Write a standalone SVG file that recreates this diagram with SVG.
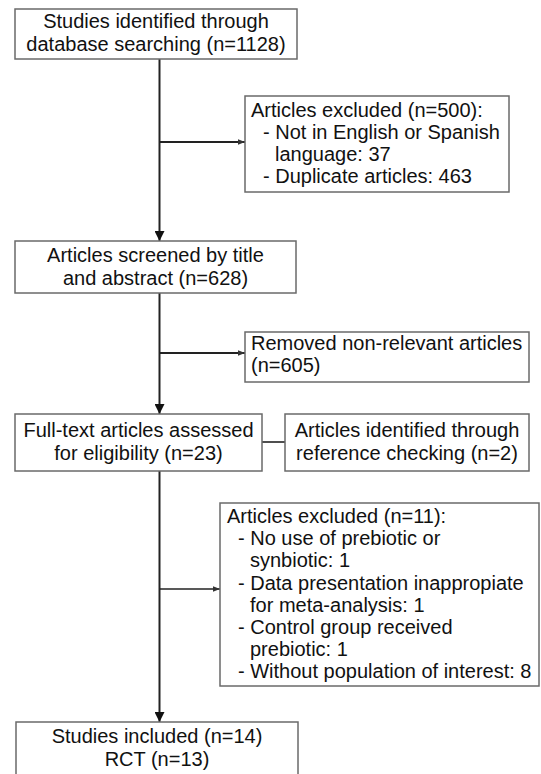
<svg xmlns="http://www.w3.org/2000/svg" width="541" height="774" viewBox="0 0 541 774">
<style>
.box{fill:#fff;stroke:#6a6a6a;stroke-width:1.5}
.t{font-family:"Liberation Sans",Arial,sans-serif;font-size:20px;fill:#111}
.c{text-anchor:middle}
.ln{stroke:#222;stroke-width:2;fill:none}
.lh{stroke:#222;stroke-width:1.6;fill:none}
</style>
<defs>
<marker id="av" viewBox="0 0 10 10" refX="10" refY="5" markerWidth="10" markerHeight="10" markerUnits="userSpaceOnUse" orient="auto">
<path d="M0,0 L10,5 L0,10 Z" fill="#111"/>
</marker>
<marker id="ah" viewBox="0 0 10 10" refX="10" refY="5" markerWidth="7" markerHeight="7" markerUnits="userSpaceOnUse" orient="auto">
<path d="M0,1 L10,5 L0,9 Z" fill="#333"/>
</marker>
</defs>
<rect width="541" height="774" fill="#fff"/>
<g id="connectors">
<line class="ln" x1="159.5" y1="59" x2="159.5" y2="241" marker-end="url(#av)"/>
<line class="ln" x1="159.5" y1="142" x2="245" y2="142" marker-end="url(#ah)"/>
<line class="ln" x1="159.5" y1="293" x2="159.5" y2="414" marker-end="url(#av)"/>
<line class="ln" x1="159.5" y1="353" x2="245" y2="353" marker-end="url(#ah)"/>
<line class="lh" x1="262" y1="442" x2="285" y2="442"/>
<line class="ln" x1="159.5" y1="471" x2="159.5" y2="722" marker-end="url(#av)"/>
<line class="lh" x1="159.5" y1="589" x2="220" y2="589" marker-end="url(#ah)"/>
</g>
<g id="n1">
<rect class="box" x="15" y="9" width="282" height="50"/>
<text class="t c" x="156" y="28">Studies identified through</text>
<text class="t c" x="156" y="51">database searching (n=1128)</text>
</g>
<g id="n2">
<rect class="box" x="245" y="96" width="264" height="96"/>
<text class="t" x="251" y="117">Articles excluded (n=500):</text>
<text class="t" x="263" y="139">- Not in English or Spanish</text>
<text class="t" x="275" y="161">language: 37</text>
<text class="t" x="263" y="183">- Duplicate articles: 463</text>
</g>
<g id="n3">
<rect class="box" x="15" y="241" width="281" height="52"/>
<text class="t c" x="155.5" y="262">Articles screened by title</text>
<text class="t c" x="155.5" y="285">and abstract (n=628)</text>
</g>
<g id="n4">
<rect class="box" x="245" y="332" width="284" height="50"/>
<text class="t" x="251" y="350">Removed non-relevant articles</text>
<text class="t" x="251" y="372">(n=605)</text>
</g>
<g id="n5">
<rect class="box" x="15" y="414" width="247" height="57"/>
<text class="t c" x="138.5" y="437">Full-text articles assessed</text>
<text class="t c" x="138.5" y="460">for eligibility (n=23)</text>
</g>
<g id="n6">
<rect class="box" x="285" y="414" width="244" height="57"/>
<text class="t c" x="407" y="437">Articles identified through</text>
<text class="t c" x="407" y="460">reference checking (n=2)</text>
</g>
<g id="n7">
<rect class="box" x="220" y="503" width="319" height="183"/>
<text class="t" x="227" y="523">Articles excluded (n=11):</text>
<text class="t" x="238" y="545">- No use of prebiotic or</text>
<text class="t" x="250" y="567">synbiotic: 1</text>
<text class="t" x="238" y="590">- Data presentation inappropiate</text>
<text class="t" x="250" y="612">for meta-analysis: 1</text>
<text class="t" x="238" y="634">- Control group received</text>
<text class="t" x="250" y="656">prebiotic: 1</text>
<text class="t" x="238" y="678">- Without population of interest: 8</text>
</g>
<g id="n8">
<rect class="box" x="16" y="722" width="282" height="62"/>
<text class="t c" x="157" y="743">Studies included (n=14)</text>
<text class="t c" x="157" y="766">RCT (n=13)</text>
</g>
</svg>
